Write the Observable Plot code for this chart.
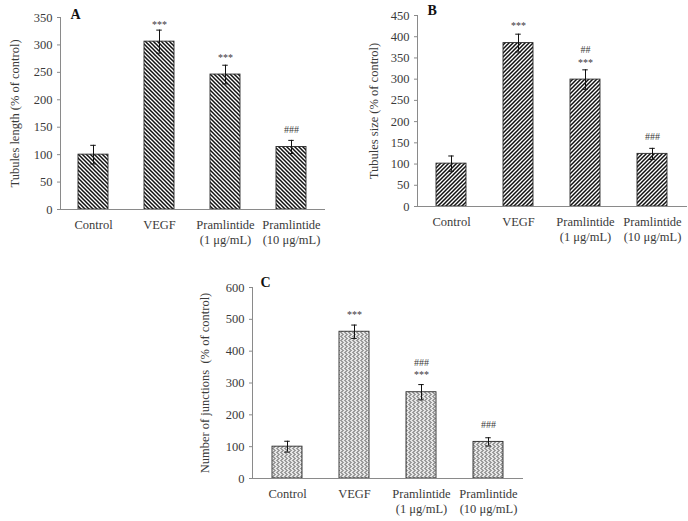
<!DOCTYPE html>
<html>
<head>
<meta charset="utf-8">
<script src="https://cdn.jsdelivr.net/npm/d3@7"></script>
<script src="https://cdn.jsdelivr.net/npm/@observablehq/plot@0.6"></script>
<style>
  html, body { margin: 0; padding: 0; background: #fff; }
  #wrap { position: relative; width: 688px; height: 521px; overflow: hidden; }
  #wrap svg { position: absolute; overflow: visible; }
</style>
</head>
<body>
<div id="wrap"></div>
<script>
// ---- data ----
const categories = ["Control", "VEGF", "Pramlintide (1 μg/mL)", "Pramlintide (10 μg/mL)"];
const tickLabels = ["Control", "VEGF", "Pramlintide\n(1 μg/mL)", "Pramlintide\n(10 μg/mL)"];

const lengthMean = [100, 306, 246, 114];
const lengthErr  = [17, 21, 17, 12];
const lengthStars = ["", "***", "***", ""];
const lengthHash  = ["", "", "", "###"];

const sizeMean = [101, 385, 299, 124];
const sizeErr  = [18, 21, 23, 13];
const sizeStars = ["", "***", "***", ""];
const sizeHash  = ["", "", "##", "###"];

const junctionsMean = [100, 461, 271, 115];
const junctionsErr  = [17, 21, 24, 13];
const junctionsStars = ["", "***", "***", ""];
const junctionsHash  = ["", "", "###", "###"];

const yTicksA = [0, 50, 100, 150, 200, 250, 300, 350];
const yTicksB = [0, 50, 100, 150, 200, 250, 300, 350, 400, 450];
const yTicksC = [0, 100, 200, 300, 400, 500, 600];

const FONT = "'Liberation Serif', 'Times New Roman', serif";
const TEXT = "#3a3a3a";
const AXIS = "#8a8a8a";

const patternDefs = `
<pattern id="patBack" patternUnits="userSpaceOnUse" width="4" height="4">
  <rect width="4" height="4" fill="#fff"/>
  <path d="M-1,-1 L5,5 M-1,3 L1,5 M3,-1 L5,1" stroke="#111" stroke-width="1.5"/>
</pattern>
<pattern id="patFwd" patternUnits="userSpaceOnUse" width="4" height="4">
  <rect width="4" height="4" fill="#fff"/>
  <path d="M-1,5 L5,-1 M-1,1 L1,-1 M3,5 L5,3" stroke="#111" stroke-width="1.5"/>
</pattern>
<pattern id="patWeave" patternUnits="userSpaceOnUse" width="4" height="4">
  <rect width="4" height="4" fill="#e6e6e6"/>
  <rect x="0" y="0" width="2" height="1" fill="#9a9a9a"/>
  <rect x="1" y="1" width="2" height="1" fill="#9a9a9a"/>
  <rect x="2" y="2" width="2" height="1" fill="#9a9a9a"/>
  <rect x="1" y="3" width="2" height="1" fill="#9a9a9a"/>
</pattern>`;

function panel({means, errs, stars, hashes, yTicks, yMax, yLabel, letter, fill,
                left, top, width, height, mL, mR, mT, mB, labelOffset, letterDx, letterDy}) {
  const rows = categories.map((c, i) => ({
    cat: c, v: means[i], e: errs[i],
    lo: means[i] - errs[i], hi: means[i] + errs[i],
    label: [hashes[i], stars[i]].filter(Boolean).join("\n")
  }));
  const labelOf = new Map(categories.map((c, i) => [c, tickLabels[i]]));
  const plotW = width - mL - mR;
  const bw = 30.5;
  const step = plotW / categories.length;
  const pi = 1 - bw / step;
  const capInset = (bw - 6) / 2;
  const svg = Plot.plot({
    width, height,
    marginLeft: mL, marginRight: mR, marginTop: mT, marginBottom: mB,
    style: {fontFamily: FONT, fontSize: "12.5px", color: TEXT, background: "transparent", overflow: "visible"},
    x: {domain: categories, paddingInner: pi, paddingOuter: pi / 2},
    y: {domain: [0, yMax]},
    marks: [
      Plot.barY(rows, {x: "cat", y: "v", fill, stroke: "#2a2a2a", strokeWidth: 0.9}),
      Plot.ruleX(rows, {x: "cat", y1: "lo", y2: "hi", stroke: "#111", strokeWidth: 1}),
      Plot.tickY(rows, {x: "cat", y: "hi", stroke: "#111", strokeWidth: 1, insetLeft: capInset, insetRight: capInset}),
      Plot.tickY(rows, {x: "cat", y: "lo", stroke: "#111", strokeWidth: 1, insetLeft: capInset, insetRight: capInset}),
      Plot.text(rows.filter(d => d.label), {x: "cat", y: "v", text: "label", lineAnchor: "bottom",
        dy: -14, lineHeight: 1.25, fontSize: 10, fill: TEXT}),
      Plot.ruleY([0], {stroke: AXIS, strokeWidth: 1}),
      Plot.frame({anchor: "left", stroke: AXIS, strokeWidth: 1}),
      Plot.axisY({ticks: yTicks, tickSize: 3, tickPadding: 5, stroke: AXIS, fill: TEXT,
        label: yLabel, labelAnchor: "center", labelArrow: "none", labelOffset, fontSize: 12.5}),
      Plot.axisX({tickSize: 0, tickPadding: 9, tickFormat: d => labelOf.get(d), lineHeight: 1.2,
        label: null, fill: TEXT, fontSize: 12.5}),
      Plot.text([letter], {frameAnchor: "top-left", dx: letterDx, dy: letterDy, text: d => d,
        fontWeight: "bold", fontSize: 14, fill: "#111", lineAnchor: "middle", textAnchor: "start"})
    ]
  });
  d3.select(svg).insert("defs", ":first-child").html(patternDefs);
  svg.style.left = left + "px";
  svg.style.top = top + "px";
  document.getElementById("wrap").appendChild(svg);
}

panel({means: lengthMean, errs: lengthErr, stars: lengthStars, hashes: lengthHash,
  yTicks: yTicksA, yMax: 350, yLabel: "Tubules length (% of control)", letter: "A", fill: "url(#patBack)",
  left: 0, top: 0, width: 344, height: 250, mL: 60, mR: 19, mT: 17, mB: 41, labelOffset: 50, letterDx: 10, letterDy: -3});

panel({means: sizeMean, errs: sizeErr, stars: sizeStars, hashes: sizeHash,
  yTicks: yTicksB, yMax: 450, yLabel: "Tubules size (% of control)", letter: "B", fill: "url(#patFwd)",
  left: 344, top: 0, width: 344, height: 250, mL: 73, mR: 1, mT: 15, mB: 44, labelOffset: 48, letterDx: 10, letterDy: -5});

panel({means: junctionsMean, errs: junctionsErr, stars: junctionsStars, hashes: junctionsHash,
  yTicks: yTicksC, yMax: 600, yLabel: "Number of junctions  (% of control)", letter: "C", fill: "url(#patWeave)",
  left: 180, top: 260, width: 344, height: 261, mL: 72, mR: 1, mT: 27, mB: 43, labelOffset: 52, letterDx: 8, letterDy: -5});
</script>
</body>
</html>
